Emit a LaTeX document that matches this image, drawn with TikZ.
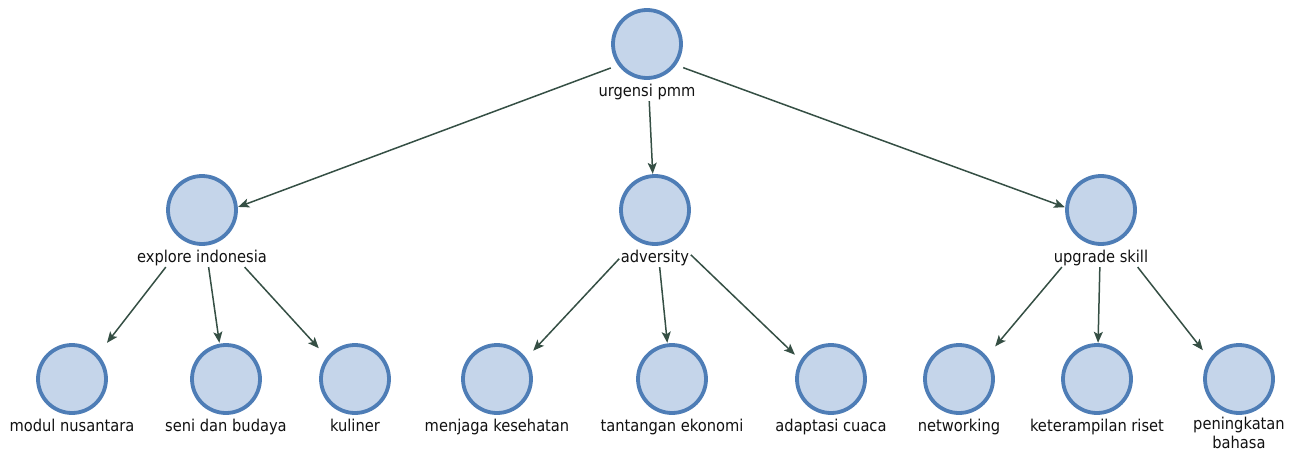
\documentclass[tikz,border=0pt]{standalone}
\usepackage{fontspec}
\setmainfont{DejaVu Sans Condensed}
\usetikzlibrary{arrows.meta,fit}
\definecolor{ringc}{HTML}{4E7DB6}
\definecolor{fillc}{HTML}{C5D5EA}
\definecolor{linkc}{HTML}{354F44}
\definecolor{textc}{HTML}{111111}
\begin{document}
\begin{tikzpicture}[x=1pt,y=-1pt,
  bub/.style={rectangle, minimum size=72pt, inner sep=0pt,
    path picture={\draw[line width=3.8pt, draw=ringc, fill=fillc]
      (path picture bounding box.center) circle (34pt);}},
  lab/.style={font=\fontsize{16.3}{19}\selectfont, text=textc,
    inner sep=1.5pt, align=center, anchor=base},
  grp/.style={inner sep=0pt},
  link/.style={draw=linkc, line width=1.5pt,
    -{Stealth[length=11pt,width=9pt,inset=2.5pt]}}
]
\useasboundingbox (0,0) rectangle (1298,452);

% root
\node[bub] (Tc) at (647,44) {};
\node[lab] (Tl) at (647,96) {urgensi pmm};
\node[grp, fit=(Tc)(Tl)] (T) {};

% second level
\node[bub] (Ec) at (202,210) {};
\node[lab] (El) at (202,262) {explore indonesia};
\node[grp, fit=(Ec)(El)] (E) {};

\node[bub] (Ac) at (655,210) {};
\node[lab] (Al) at (655,262) {adversity};
\node[grp, fit=(Ac)(Al)] (A) {};

\node[bub] (Uc) at (1101,210) {};
\node[lab] (Ul) at (1101,262) {upgrade skill};
\node[grp, fit=(Uc)(Ul)] (U) {};

% leaves
\node[bub] (M1c) at (72,379) {};
\node[lab] (M1l) at (72,431) {modul nusantara};
\node[grp, fit=(M1c)(M1l)] (M1) {};

\node[bub] (M2c) at (226,379) {};
\node[lab] (M2l) at (226,431) {seni dan budaya};
\node[grp, fit=(M2c)(M2l)] (M2) {};

\node[bub] (M3c) at (355,379) {};
\node[lab] (M3l) at (355,431) {kuliner};
\node[grp, fit=(M3c)(M3l)] (M3) {};

\node[bub] (M4c) at (497,379) {};
\node[lab] (M4l) at (497,431) {menjaga kesehatan};
\node[grp, fit=(M4c)(M4l)] (M4) {};

\node[bub] (M5c) at (672,379) {};
\node[lab] (M5l) at (672,431) {tantangan ekonomi};
\node[grp, fit=(M5c)(M5l)] (M5) {};

\node[bub] (M6c) at (831,379) {};
\node[lab] (M6l) at (831,431) {adaptasi cuaca};
\node[grp, fit=(M6c)(M6l)] (M6) {};

\node[bub] (M7c) at (959,379) {};
\node[lab] (M7l) at (959,431) {networking};
\node[grp, fit=(M7c)(M7l)] (M7) {};

\node[bub] (M8c) at (1097,379) {};
\node[lab] (M8l) at (1097,431) {keterampilan riset};
\node[grp, fit=(M8c)(M8l)] (M8) {};

% two-line label: its base is the baseline of the last line
\node[bub] (M9c) at (1239,379) {};
\node[lab] (M9l) at (1239,448) {peningkatan\\bahasa};
\node[grp, fit=(M9c)(M9l)] (M9) {};

% connectors: aimed centre to centre of each group, cut at the side they cross
\draw[link] (intersection of T--E and Tc.north west--Tc.south west)
  -- (intersection of T--E and Ec.north east--Ec.south east);
\draw[link] (intersection of T--A and Tl.south west--Tl.south east)
  -- (intersection of T--A and Ac.north west--Ac.north east);
\draw[link] (intersection of T--U and Tc.north east--Tc.south east)
  -- (intersection of T--U and Uc.north west--Uc.south west);

\draw[link] (intersection of E--M1 and El.south west--El.south east)
  -- (intersection of E--M1 and M1c.north west--M1c.north east);
\draw[link] (intersection of E--M2 and El.south west--El.south east)
  -- (intersection of E--M2 and M2c.north west--M2c.north east);
\draw[link] (intersection of E--M3 and El.south west--El.south east)
  -- (intersection of E--M3 and M3c.north west--M3c.south west);

\draw[link] (intersection of A--M4 and Al.north west--Al.south west)
  -- (intersection of A--M4 and M4c.north east--M4c.south east);
\draw[link] (intersection of A--M5 and Al.south west--Al.south east)
  -- (intersection of A--M5 and M5c.north west--M5c.north east);
\draw[link] (intersection of A--M6 and Al.north east--Al.south east)
  -- (intersection of A--M6 and M6c.north west--M6c.south west);

\draw[link] (intersection of U--M7 and Ul.south west--Ul.south east)
  -- (intersection of U--M7 and M7c.north east--M7c.south east);
\draw[link] (intersection of U--M8 and Ul.south west--Ul.south east)
  -- (intersection of U--M8 and M8c.north west--M8c.north east);
\draw[link] (intersection of U--M9 and Ul.south west--Ul.south east)
  -- (intersection of U--M9 and M9c.north west--M9c.south west);
\end{tikzpicture}
\end{document}
